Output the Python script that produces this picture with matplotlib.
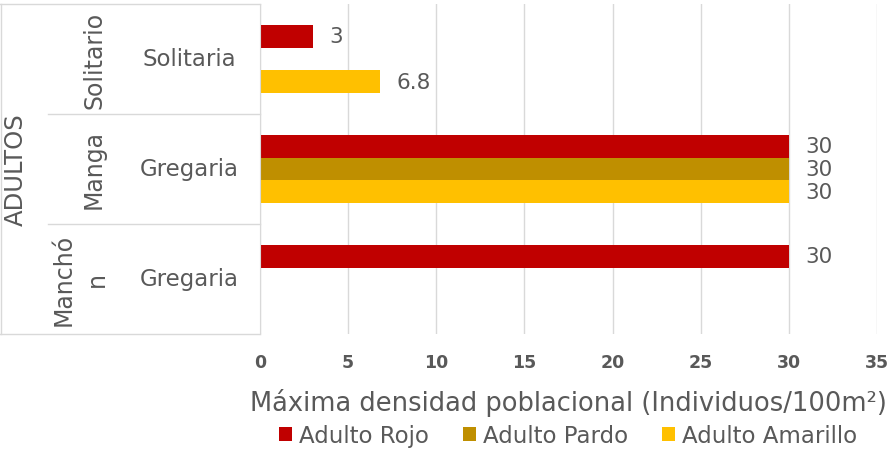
import matplotlib.pyplot as plt
import numpy as np

# category levels, top to bottom
level1 = "ADULTOS"
level2 = ["Solitario", "Manga", "Manchó\nn"]
level3 = ["Solitaria", "Gregaria", "Gregaria"]

# series values (nan = no bar)
rojo = [3, 30, 30]
pardo = [np.nan, 30, np.nan]
amarillo = [6.8, 30, np.nan]
series_names = ["Adulto Rojo", "Adulto Pardo", "Adulto Amarillo"]
colors = ["#C00000", "#BF8F00", "#FFC000"]
xticks = [0, 5, 10, 15, 20, 25, 30, 35]

txt = "#595959"
grid = "#D9D9D9"
plt.rcParams["font.family"] = ["DejaVu Sans"]

W, H = 893, 452
fig = plt.figure(figsize=(W / 100, H / 100), dpi=100)
x0, x1, ytop, ybot = 260, 877, 5, 335
ax = fig.add_axes([x0 / W, (H - ybot) / H, (x1 - x0) / W, (ybot - ytop) / H])

y = np.arange(len(level3))
bh = 0.205
for i, (vals, name, c) in enumerate(zip([rojo, pardo, amarillo], series_names, colors)):
    pos = y + (i - 1) * bh
    ax.barh(pos, vals, height=bh, color=c, label=name)
    for p, v in zip(pos, vals):
        if not np.isnan(v):
            ax.annotate(f"{v:g}", (v, p), xytext=(12, 0), textcoords="offset points",
                        va="center", ha="left", fontsize=15.5, color=txt)

ax.set_xlim(0, 35)
ax.set_ylim(2.5, -0.5)
ax.set_xticks(xticks)
ax.set_xticklabels([str(t) for t in xticks], fontsize=12.5, fontweight="bold", color=txt)
ax.tick_params(axis="x", length=0, pad=14)
ax.set_yticks([])
ax.grid(axis="x", color=grid, lw=1)
ax.set_axisbelow(True)
for s in ["top", "right", "bottom"]:
    ax.spines[s].set_visible(False)
ax.spines["left"].set_color(grid)
ax.set_xlabel("Máxima densidad poblacional (Individuos/100m²)", fontsize=18.5,
              color=txt, labelpad=12)

# multi-level category axis
def fx(px):
    return (px - x0) / (x1 - x0)

tr = ax.get_yaxis_transform()
kw = dict(transform=tr, clip_on=False, color=grid, lw=1)
ax.plot([fx(0), 0], [-0.5, -0.5], **kw)
ax.plot([fx(0), 0], [2.5, 2.5], **kw)
ax.plot([fx(0.5), fx(0.5)], [-0.5, 2.5], **kw)
for b in [0.5, 1.5]:
    ax.plot([fx(48), 0], [b, b], **kw)

ax.text(fx(16), 1, level1, transform=tr, rotation=90, ha="center", va="center",
        fontsize=17.5, color=txt)
for yi, (l2, l3) in enumerate(zip(level2, level3)):
    ax.text(fx(80) if "\n" in l2 else fx(94), yi, l2, transform=tr, rotation=90,
            ha="center", va="center", fontsize=17, color=txt, linespacing=1.5)
    ax.text(fx(189), yi, l3, transform=tr, ha="center", va="center",
            fontsize=16.5, color=txt)

fig.legend(loc="center", bbox_to_anchor=(568 / W, 1 - 437 / H), ncol=3, frameon=False,
           fontsize=16.5, labelcolor=txt, handlelength=0.55, handleheight=0.55,
           handletextpad=0.3, columnspacing=1.5, borderpad=0)

fig.savefig("out.png", dpi=100)
